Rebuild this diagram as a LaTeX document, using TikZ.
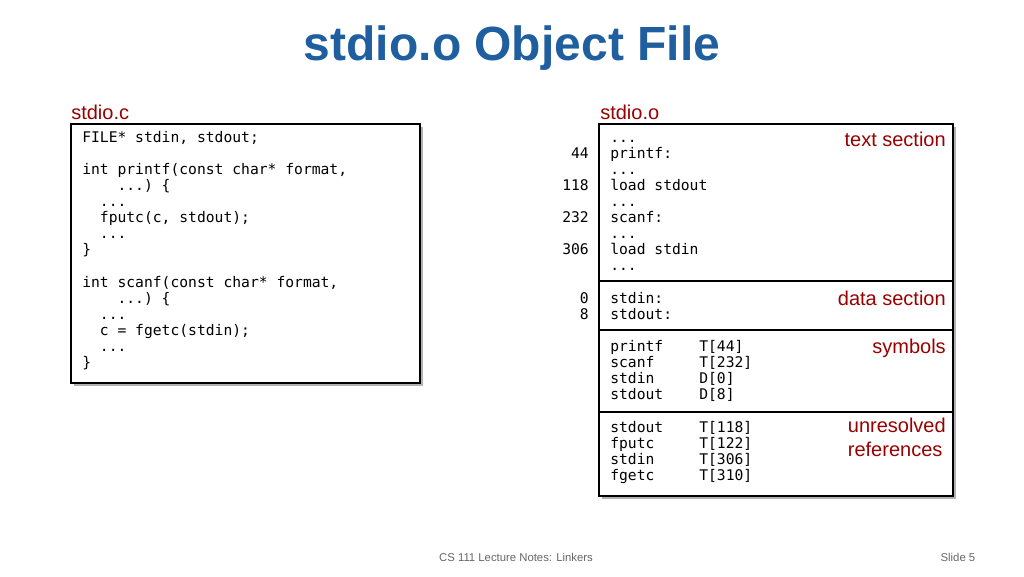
\documentclass[tikz,border=0pt]{standalone}
\usepackage{fontspec}
\setmainfont{Liberation Sans}
\setmonofont{DejaVu Sans Mono}
\newcommand\mydots{...}
\begin{document}
\begin{tikzpicture}[x=0.75pt,y=-0.75pt,
  code/.style={anchor=base west,inner sep=0,font=\ttfamily\fontsize{11}{12}\selectfont},
  num/.style={anchor=base east,inner sep=0,font=\ttfamily\fontsize{11}{12}\selectfont},
  lab/.style={inner sep=0,text=red!60!black,font=\fontsize{15}{18}\selectfont},
  box/.style={draw,line width=1.5pt,fill=white},
  shadow/.style={fill=black!30}]
\useasboundingbox (0,0) rectangle (1024,576);
\node (title) at (512,48) {\color[HTML]{1F5FA0}\bfseries\fontsize{36}{42}\selectfont stdio.o Object File};
\node[lab,anchor=west] (lc) at (71,112) {stdio.c};
\node[lab,anchor=west] (lo) at (600,112) {stdio.o};
% left box
\fill[shadow] (74,127) rectangle (423,386);
\draw[box] (71,124) rectangle (420,383);
\foreach \t/\y [count=\i] in {{FILE* stdin, stdout;}/137,{int printf(const char* format,}/169,{\ \ \ \ \mydots) \{}/185,{\ \ \mydots}/201,{\ \ fputc(c, stdout);}/217,{\ \ \mydots}/233,{\}}/249,{int scanf(const char* format,}/282,{\ \ \ \ \mydots) \{}/298,{\ \ \mydots}/314,{\ \ c = fgetc(stdin);}/330,{\ \ \mydots}/346,{\}}/362}
  \node[code] (l\i) at (82,\y+5) {\t};
% right box
\fill[shadow] (602,127) rectangle (956,499);
\draw[box] (599,124) rectangle (953,496);
\draw[line width=1.5pt] (599,281) -- (953,281) (599,330) -- (953,330) (599,412) -- (953,412);
\foreach \t/\y [count=\i] in {\mydots/137,printf:/153,\mydots/169,load stdout/185,\mydots/201,scanf:/217,\mydots/233,load stdin/249,\mydots/265,stdin:/298,stdout:/314}
  \node[code] (r\i) at (610,\y+5) {\t};
\foreach \t/\y [count=\i] in {44/153,118/185,232/217,306/249,0/298,8/314}
  \node[num] (n\i) at (589,\y+5) {\t};
\foreach \a/\b/\y [count=\i] in {printf/T[44]/346,scanf/T[232]/362,stdin/D[0]/378,stdout/D[8]/394,stdout/T[118]/427,fputc/T[122]/443,stdin/T[306]/459,fgetc/T[310]/475}{
  \node[code] (s\i) at (610,\y+5) {\a};
  \node[code] (t\i) at (699,\y+5) {\b};}
\node[lab,anchor=east] (ts) at (946,139) {text section};
\node[lab,anchor=east] (ds) at (946,298) {data section};
\node[lab,anchor=east] (sy) at (946,348) {symbols};
\node[lab,anchor=north east,align=left] (ur) at (946,418) {unresolved\\references};
\node[text=black!60,font=\fontsize{8.5}{10}\selectfont] (ft) at (516,557) {CS 111 Lecture Notes: Linkers};
\node[text=black!60,font=\fontsize{8.5}{10}\selectfont,anchor=east] (sl) at (980,557) {Slide 5};
\end{tikzpicture}
\end{document}
